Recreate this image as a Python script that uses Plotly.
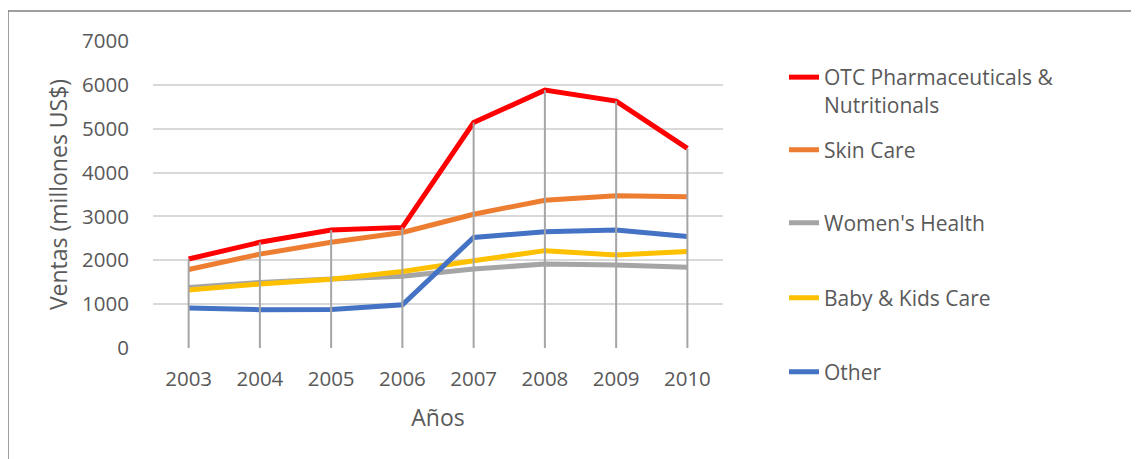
import plotly.graph_objects as go
import numpy as np

years = ["2003", "2004", "2005", "2006", "2007", "2008", "2009", "2010"]
otc = [2030, 2410, 2690, 2750, 5140, 5880, 5630, 4550]
skin = [1790, 2140, 2410, 2635, 3050, 3370, 3470, 3450]
womens = [1380, 1495, 1575, 1635, 1800, 1915, 1890, 1840]
baby = [1320, 1460, 1570, 1745, 1990, 2220, 2120, 2200]
other = [910, 875, 880, 985, 2520, 2650, 2690, 2540]

names = ["OTC Pharmaceuticals &<br>Nutritionals", "Skin Care", "Women's Health",
         "Baby & Kids Care", "Other"]
series = [otc, skin, womens, baby, other]
colors = ["#FF0000", "#ED7D31", "#A5A5A5", "#FFC000", "#4472C4"]

# page body has an 8px margin, so the figure is drawn 8px right/down
OFF = 8
W, H = 1139 - OFF, 459 - OFF
L, T = 153 - OFF, 41 - OFF
R = W - (723 - OFF)
B = H - (348 - OFF)
pw, ph = W - L - R, H - T - B

def px2x(px):
    return (px - OFF - L) / pw

def py2y(py):
    return (H - B - (py - OFF)) / ph

fig = go.Figure()
legend_ids = ["legend", "legend2", "legend3", "legend4", "legend5"]
for nm, vals, col, lg in zip(names, series, colors, legend_ids):
    fig.add_trace(go.Scatter(x=years, y=vals, name=nm, mode="lines",
                             line=dict(color=col, width=5), legend=lg))

# drop lines from the highest series at each category down to the axis
tops = np.max(np.array(series), axis=0)
dx, dy = [], []
for yr, tp in zip(years, tops):
    dx += [yr, yr, None]
    dy += [0, float(tp), None]
fig.add_trace(go.Scatter(x=dx, y=dy, mode="lines", showlegend=False,
                         line=dict(color="#A5A5A5", width=2), hoverinfo="skip"))

font = "Open Sans"
txt = "#595959"
leg_common = dict(x=px2x(784), xanchor="left", font=dict(family=font, size=21, color=txt),
                  bgcolor="rgba(0,0,0,0)", borderwidth=0)
leg_y = [75, 150, 223, 298, 372]
layout_legends = {}
for i, (lg, yy) in enumerate(zip(legend_ids, leg_y)):
    d = dict(leg_common)
    if i == 0:
        d.update(y=py2y(yy - 18), yanchor="top", valign="top")
    else:
        d.update(y=py2y(yy), yanchor="middle")
    layout_legends[lg] = d

fig.update_layout(
    width=W, height=H,
    margin=dict(l=L, r=R, t=T, b=B, autoexpand=False),
    paper_bgcolor="white", plot_bgcolor="white",
    font=dict(family=font, size=20, color=txt),
    **layout_legends,
    xaxis=dict(type="category", range=[-0.5, 7.5], showgrid=False, zeroline=False,
               showline=False, ticks="", tickfont=dict(size=20.5, color=txt),
               ticklabelstandoff=16,
               title=dict(text="Años", font=dict(size=23, color=txt), standoff=19)),
    yaxis=dict(range=[0, 7000], dtick=1000, showgrid=True, gridcolor="#D9D9D9",
               gridwidth=1.5, zeroline=False, showline=False, ticks="",
               tickfont=dict(size=20.5, color=txt), ticklabelstandoff=23,
               title=dict(text="Ventas (millones US$)", font=dict(size=23, color=txt),
                          standoff=8)),
    shapes=[dict(type="rect", xref="paper", yref="paper",
                 x0=px2x(8), x1=px2x(1139 + 20), y0=py2y(459 + 20), y1=py2y(11),
                 line=dict(color="#7F7F7F", width=1.5), fillcolor="rgba(0,0,0,0)",
                 layer="below")],
)

fig.write_html("out.html")
